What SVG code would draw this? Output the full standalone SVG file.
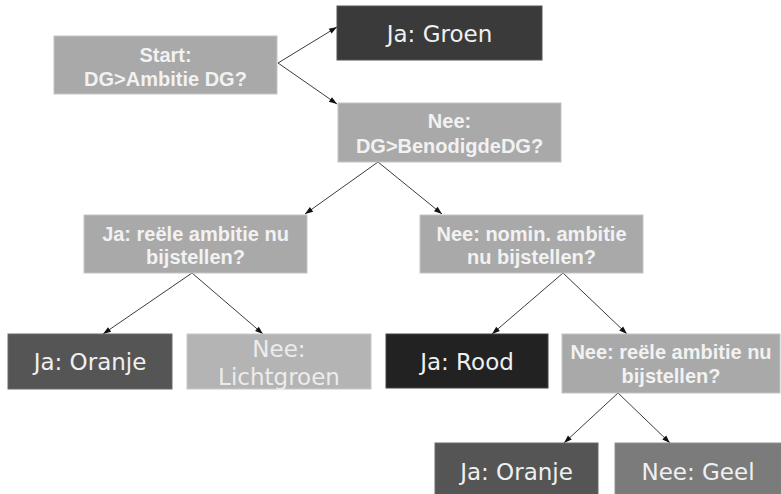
<svg xmlns="http://www.w3.org/2000/svg" width="781" height="494" viewBox="0 0 781 494">
<style>
.q{fill:#a9a9a9;stroke:#c4c4c4;stroke-width:1}
.qt{font-family:"Liberation Sans",Arial,sans-serif;font-weight:bold;font-size:20px;fill:#f2f2f2;text-anchor:middle}
.rt{font-family:"DejaVu Sans",Verdana,sans-serif;font-size:23px;fill:#f0f0f0;text-anchor:middle}
.c{stroke:#3c3c3c;stroke-width:1;fill:none;marker-end:url(#ah)}
</style>
<defs>
<marker id="ah" viewBox="0 0 10 10" refX="10" refY="5" markerWidth="9" markerHeight="8" markerUnits="userSpaceOnUse" orient="auto">
<path d="M0,1.5 L10,5 L0,8.5 z" fill="#111"/>
</marker>
</defs>
<rect width="781" height="494" fill="#ffffff"/>
<g id="connectors">
<line class="c" x1="278" y1="63" x2="337" y2="27"/>
<line class="c" x1="278" y1="63" x2="337" y2="104"/>
<line class="c" x1="378" y1="162" x2="305" y2="214"/>
<line class="c" x1="378" y1="162" x2="442" y2="214"/>
<line class="c" x1="192" y1="273" x2="103" y2="334"/>
<line class="c" x1="192" y1="273" x2="263" y2="334"/>
<line class="c" x1="563" y1="273" x2="492" y2="334"/>
<line class="c" x1="563" y1="273" x2="627" y2="334"/>
<line class="c" x1="618" y1="393" x2="564" y2="443"/>
<line class="c" x1="618" y1="393" x2="670" y2="443"/>
</g>
<g id="start">
<rect class="q" x="54" y="36" width="223" height="58"/>
<text class="qt" x="165.5" y="62">Start:</text>
<text class="qt" x="165.5" y="86">DG&gt;Ambitie DG?</text>
</g>
<g id="ja-groen">
<rect x="337" y="6" width="205" height="54" fill="#3a3a3a" stroke="#555" stroke-width="1"/>
<text class="rt" x="439.5" y="42">Ja: Groen</text>
</g>
<g id="nee-benodigd">
<rect class="q" x="338" y="103" width="223" height="59"/>
<text class="qt" x="449.5" y="128">Nee:</text>
<text class="qt" x="449.5" y="153">DG&gt;BenodigdeDG?</text>
</g>
<g id="ja-reele">
<rect class="q" x="84" y="215" width="223" height="58"/>
<text class="qt" x="195.5" y="241">Ja: reële ambitie nu</text>
<text class="qt" x="195.5" y="264">bijstellen?</text>
</g>
<g id="nee-nomin">
<rect class="q" x="420" y="215" width="223" height="58"/>
<text class="qt" x="531.5" y="241">Nee: nomin. ambitie</text>
<text class="qt" x="531.5" y="264">nu bijstellen?</text>
</g>
<g id="ja-oranje-1">
<rect x="8" y="334" width="164" height="55" fill="#555555" stroke="#6a6a6a" stroke-width="1"/>
<text class="rt" x="90" y="370">Ja: Oranje</text>
</g>
<g id="nee-lichtgroen">
<rect x="187" y="334" width="184" height="55" fill="#b4b4b4" stroke="#c8c8c8" stroke-width="1"/>
<text class="rt" x="279" y="357" style="fill:#ececec">Nee:</text>
<text class="rt" x="279" y="385" style="fill:#ececec">Lichtgroen</text>
</g>
<g id="ja-rood">
<rect x="386" y="334" width="162" height="54" fill="#222222" stroke="#444" stroke-width="1"/>
<text class="rt" x="467" y="370">Ja: Rood</text>
</g>
<g id="nee-reele">
<rect class="q" x="562" y="334" width="218" height="59"/>
<text class="qt" x="671" y="359">Nee: reële ambitie nu</text>
<text class="qt" x="671" y="383">bijstellen?</text>
</g>
<g id="ja-oranje-2">
<rect x="435" y="443" width="163" height="56" fill="#555555" stroke="#6a6a6a" stroke-width="1"/>
<text class="rt" x="516.5" y="480">Ja: Oranje</text>
</g>
<g id="nee-geel">
<rect x="615" y="443" width="167" height="56" fill="#7b7b7b" stroke="#909090" stroke-width="1"/>
<text class="rt" x="698" y="480">Nee: Geel</text>
</g>
</svg>
